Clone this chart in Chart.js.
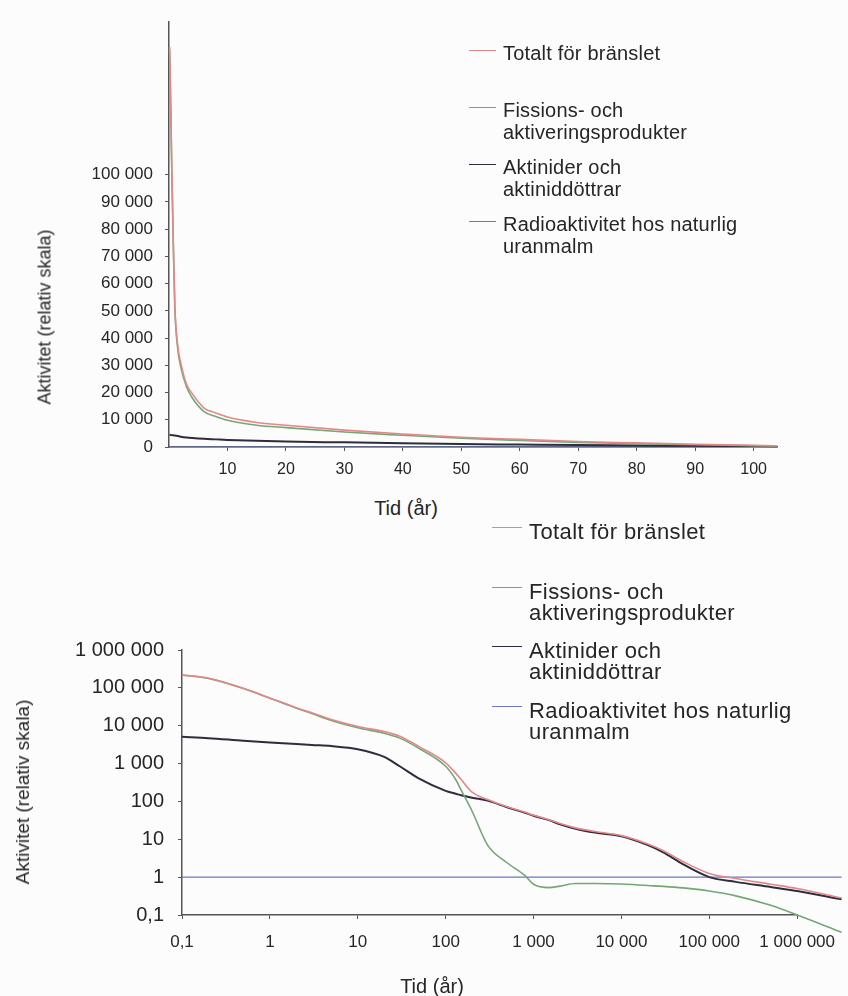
<!DOCTYPE html>
<html>
<head>
<meta charset="utf-8">
<script src="https://cdn.jsdelivr.net/npm/chart.js@4"></script>
<style>
  body { margin: 0; background: #fcfcfc; font-family: "Liberation Sans", Arial, sans-serif; color: #262626; }
  #page { position: relative; width: 848px; height: 996px; overflow: hidden; }
  canvas { position: absolute; left: 0; }
  .axis-title { position: absolute; white-space: nowrap; transform: translate(-50%, -50%); }
  .axis-title.vert { transform: translate(-50%, -50%) rotate(-90deg); }
  .legend { position: absolute; }
  .legend .item { position: relative; white-space: pre-line; }
  .legend .swatch { position: absolute; left: 0; height: 0; }
</style>
</head>
<body>
<div id="page">
  <canvas id="linChart" width="848" height="490" style="top:0"></canvas>
  <canvas id="logChart" width="848" height="456" style="top:540px"></canvas>
  <div class="axis-title vert" style="left:45px; top:317px; font-size:18px">Aktivitet (relativ skala)</div>
  <div class="axis-title" style="left:406px; top:508px; font-size:20px">Tid (år)</div>
  <div class="axis-title vert" style="left:23px; top:792px; font-size:19px">Aktivitet (relativ skala)</div>
  <div class="axis-title" style="left:432px; top:986px; font-size:20px">Tid (år)</div>
  <div class="legend" id="linLegend"></div>
  <div class="legend" id="logLegend"></div>
</div>
<script>
// series names
const seriesLabels = [
  "Totalt för bränslet",
  "Fissions- och\naktiveringsprodukter",
  "Aktinider och\naktiniddöttrar",
  "Radioaktivitet hos naturlig\nuranmalm"
];
const seriesColors = ["#e38888", "#76a676", "#2d2d3d", "#6d78c0"];
const seriesWidths = [1.6, 1.6, 2, 1.2];

// upper chart, linear scale (years)
const linYears = [0.1, 0.3, 0.5, 0.75, 1, 1.5, 2, 3, 4, 6, 8, 10, 15, 20, 30, 40, 50, 60, 70, 80, 90, 100, 104];
const linTotal = [147000, 125000, 100000, 74000, 52000, 37000, 31000, 23000, 19500, 14300, 12500, 11000, 9000, 8000, 6200, 4800, 3600, 2800, 2000, 1500, 1000, 600, 450];
const linFission = [146000, 124000, 99000, 73000, 51000, 36000, 29500, 22000, 18000, 13000, 11200, 9800, 8000, 7100, 5500, 4300, 3200, 2400, 1700, 1200, 800, 450, 320];
const linActinide = [4500, 4400, 4350, 4300, 4200, 4000, 3800, 3500, 3300, 3000, 2800, 2600, 2300, 2000, 1700, 1400, 1100, 900, 700, 550, 450, 350, 300];
const linOreYears = [0.1, 104];
const linOre = [1, 1];
const linXTicks = [10, 20, 30, 40, 50, 60, 70, 80, 90, 100];
const linYTicks = [0, 10000, 20000, 30000, 40000, 50000, 60000, 70000, 80000, 90000, 100000];

// lower chart, log scale (years)
const logYears = [0.1, 0.2, 0.5, 1, 2, 3, 5, 10, 20, 30, 50, 100, 130, 150, 200, 300, 500, 800, 1000, 1500, 2000, 3000, 5000, 10000, 20000, 30000, 50000, 100000, 200000, 500000, 1000000, 3200000];
const logTotal = [220000, 180000, 97000, 54000, 30000, 22000, 14500, 9500, 7000, 5300, 2800, 1050, 560, 380, 175, 112, 72, 52, 43, 33, 26, 20, 16, 12.5, 7.5, 5, 2.6, 1.25, 0.92, 0.65, 0.5, 0.28];
const logFission = [218000, 178000, 96000, 53000, 29000, 21000, 13800, 8800, 6300, 4700, 2500, 850, 380, 200, 55, 7, 2.4, 1.1, 0.65, 0.53, 0.58, 0.68, 0.68, 0.66, 0.6, 0.57, 0.52, 0.43, 0.32, 0.18, 0.1, 0.035];
const logActinide = [5100, 4700, 4000, 3600, 3300, 3100, 2900, 2400, 1500, 850, 400, 190, 160, 145, 125, 105, 70, 50, 42, 32, 25, 19, 15, 12, 7, 4.5, 2.2, 1.0, 0.75, 0.55, 0.43, 0.26];
const logOreYears = [0.1, 3200000];
const logOre = [1, 1];
const logTicks = [0.1, 1, 10, 100, 1000, 10000, 100000, 1000000];

const FONT = "'Liberation Sans', Arial, sans-serif";
const TEXT = "#262626";

function fmt(v) {
  if (v < 1) return String(v).replace(".", ",");
  return String(Math.round(v)).replace(/\B(?=(\d{3})+(?!\d))/g, " ");
}

function pts(xs, ys) {
  return xs.map((x, i) => ({ x: x, y: ys[i] }));
}

function makeDatasets(sets) {
  return sets.map((s, i) => ({
    label: seriesLabels[i],
    data: pts(s[0], s[1]),
    borderColor: seriesColors[i],
    borderWidth: seriesWidths[i],
    pointRadius: 0,
    fill: false,
    cubicInterpolationMode: "monotone",
    clip: false
  }));
}

function axis(extra) {
  return Object.assign({
    grid: { drawOnChartArea: false, drawTicks: true, tickLength: 4, color: "#555" },
    border: { color: "#555", width: 1.5 }
  }, extra);
}

// simple html legend built from the chart's datasets
function htmlLegend(chart, id, o) {
  const box = document.getElementById(id);
  box.style.left = o.left + "px";
  box.style.top = o.top + "px";
  box.style.fontSize = o.size + "px";
  box.style.lineHeight = o.lineHeight + "px";
  box.style.letterSpacing = o.spacing + "px";
  chart.data.datasets.forEach(ds => {
    const item = document.createElement("div");
    item.className = "item";
    item.style.height = o.step + "px";
    item.style.paddingLeft = o.textLeft + "px";
    const sw = document.createElement("span");
    sw.className = "swatch";
    sw.style.top = o.lineTop + "px";
    sw.style.width = o.lineLen + "px";
    sw.style.borderTop = "1.5px solid " + ds.borderColor;
    item.appendChild(sw);
    item.appendChild(document.createTextNode(ds.label));
    box.appendChild(item);
  });
}

const linChart = new Chart(document.getElementById("linChart"), {
  type: "line",
  data: {
    datasets: makeDatasets([
      [linYears, linTotal],
      [linYears, linFission],
      [linYears, linActinide],
      [linOreYears, linOre]
    ])
  },
  options: {
    responsive: false,
    animation: false,
    layout: { padding: { left: 0, top: 14, right: 71, bottom: 0 } },
    elements: { line: { capBezierPoints: false } },
    plugins: { legend: { display: false }, tooltip: { enabled: false } },
    scales: {
      x: axis({
        type: "linear",
        min: 0,
        max: 104,
        ticks: { font: { size: 16, family: FONT }, color: TEXT, padding: 9, maxRotation: 0, autoSkip: false },
        afterBuildTicks: s => { s.ticks = linXTicks.map(v => ({ value: v })); },
        afterFit: s => { s.height = 43; }
      }),
      y: axis({
        type: "linear",
        min: 0,
        max: 156000,
        ticks: { font: { size: 17, family: FONT }, color: TEXT, padding: 12, autoSkip: false, callback: v => fmt(v) },
        afterBuildTicks: s => { s.ticks = linYTicks.map(v => ({ value: v })); },
        afterFit: s => { s.width = 169; }
      })
    }
  }
});

const logChart = new Chart(document.getElementById("logChart"), {
  type: "line",
  data: {
    datasets: makeDatasets([
      [logYears, logTotal],
      [logYears, logFission],
      [logYears, logActinide],
      [logOreYears, logOre]
    ])
  },
  options: {
    responsive: false,
    animation: false,
    layout: { padding: { left: 0, top: 110, right: 45, bottom: 31 } },
    elements: { line: { capBezierPoints: false } },
    plugins: { legend: { display: false }, tooltip: { enabled: false } },
    scales: {
      x: axis({
        type: "logarithmic",
        min: 0.1,
        // axis stops at 1 000 000, the curves run on past it
        afterDataLimits: s => { s.max = 1000000; },
        ticks: { font: { size: 17, family: FONT }, color: TEXT, padding: 13, maxRotation: 0, autoSkip: false, callback: v => fmt(v) },
        afterBuildTicks: s => { s.ticks = logTicks.map(v => ({ value: v })); },
        afterFit: s => { s.height = 50; }
      }),
      y: axis({
        type: "logarithmic",
        min: 0.1,
        max: 1000000,
        ticks: { font: { size: 20, family: FONT }, color: TEXT, padding: 14, autoSkip: false, callback: v => fmt(v) },
        afterBuildTicks: s => { s.ticks = logTicks.map(v => ({ value: v })); },
        afterFit: s => { s.width = 182; }
      })
    }
  }
});

htmlLegend(linChart, "linLegend", { left: 469, top: 42, size: 20, lineHeight: 22, spacing: 0.2, step: 57, textLeft: 34, lineLen: 27, lineTop: 8 });
htmlLegend(logChart, "logLegend", { left: 492, top: 521, size: 22, lineHeight: 21, spacing: 0.4, step: 59.5, textLeft: 37, lineLen: 30, lineTop: 6 });
</script>
</body>
</html>
